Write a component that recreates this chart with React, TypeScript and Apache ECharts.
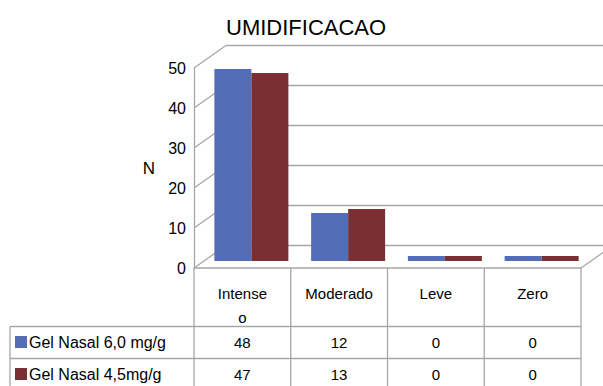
import React, { useEffect, useRef } from "react";
import * as echarts from "echarts";

const categories = ["Intense\no", "Moderado", "Leve", "Zero"];
const seriesNames = ["Gel Nasal 6,0 mg/g", "Gel Nasal 4,5mg/g"];
const gel60 = [48, 12, 0, 0];
const gel45 = [47, 13, 0, 0];
const valueMin = 0;
const valueMax = 50;
const valueStep = 10;

const FONT = "'Liberation Sans', Arial, Helvetica, sans-serif";
const BLUE = "#536db6";
const RED = "#7a3033";
const FRAME = "#a6a6a6";

// bar plane, and the offsets of the front and back planes of the 3D box
const PLANE = { left: 203, top: 61, width: 387, height: 200 };
const FRONT = { dx: -9, dy: 7 };
const BACK = { dx: 23, dy: -15.5 };
// data table rows
const TABLE = { left: 10, headerTop: 281, rowLines: [326.5, 358.5], rowCenters: [342, 374], bottom: 400 };

export default function App() {
  const ref = useRef<HTMLDivElement>(null);

  useEffect(() => {
    if (!ref.current) return;
    const chart = echarts.init(ref.current, null, { renderer: "svg" });

    const ticks: number[] = [];
    for (let v = valueMin; v <= valueMax; v += valueStep) ticks.push(v);

    // one legend entry per table row
    const legends = seriesNames.map((name, r) => ({
      orient: "vertical",
      left: 15,
      top: TABLE.rowCenters[r] - 8.5,
      padding: 0,
      icon: "rect",
      itemWidth: 12,
      itemHeight: 12,
      selectedMode: false,
      textStyle: { fontSize: 16, color: "#000", fontFamily: FONT, lineHeight: 17, padding: [0, 0, 0, -3] },
      data: [name],
    }));

    chart.setOption({
      animation: false,
      textStyle: { fontFamily: FONT },
      title: {
        text: "UMIDIFICACAO",
        left: 221,
        top: 11,
        textStyle: { fontSize: 22, fontWeight: "normal", color: "#000", fontFamily: FONT },
      },
      legend: legends,
      grid: [
        { left: PLANE.left, top: PLANE.top, width: PLANE.width, height: PLANE.height },
        {
          left: PLANE.left + FRONT.dx,
          top: PLANE.top + FRONT.dy,
          width: PLANE.width,
          height: PLANE.height,
        },
      ],
      xAxis: [
        { type: "category", gridIndex: 0, data: categories, show: false },
        { type: "category", gridIndex: 1, data: categories, show: false },
      ],
      yAxis: [
        { type: "value", gridIndex: 0, min: valueMin, max: valueMax, interval: valueStep, show: false },
        {
          type: "value",
          gridIndex: 1,
          min: valueMin,
          max: valueMax,
          interval: valueStep,
          axisLine: { show: true, lineStyle: { color: FRAME, width: 1.3 } },
          axisTick: { show: false },
          splitLine: { show: false },
          axisLabel: { fontSize: 16, color: "#000", margin: 8, fontFamily: FONT, padding: [6, 0, 0, 0] },
          name: "N",
          nameLocation: "middle",
          nameRotate: 0,
          nameGap: 39,
          nameTextStyle: { fontSize: 17, color: "#000", fontFamily: FONT, padding: [14, 0, 0, 0] },
        },
      ],
      series: [
        {
          type: "bar",
          name: seriesNames[0],
          data: gel60,
          xAxisIndex: 0,
          yAxisIndex: 0,
          barWidth: 37,
          barGap: "0%",
          barMinHeight: 5,
          itemStyle: { color: BLUE },
        },
        {
          type: "bar",
          name: seriesNames[1],
          data: gel45,
          xAxisIndex: 0,
          yAxisIndex: 0,
          barWidth: 37,
          barGap: "0%",
          barMinHeight: 5,
          itemStyle: { color: RED },
        },
      ],
    });

    // geometry of the box, taken from the axes
    const py = (v: number) => chart.convertToPixel({ yAxisIndex: 0 }, v) as number;
    const fy = (v: number) => chart.convertToPixel({ yAxisIndex: 1 }, v) as number;
    const fx = (i: number) => chart.convertToPixel({ xAxisIndex: 1 }, categories[i]) as number;
    const slot = fx(1) - fx(0);
    const frontLeft = fx(0) - slot / 2;
    const frontRight = frontLeft + slot * categories.length;
    const backLeft = frontLeft - FRONT.dx + BACK.dx;
    const backRight = frontRight - FRONT.dx + BACK.dx;
    const by = (v: number) => py(v) + BACK.dy;

    const line = (x1: number, y1: number, x2: number, y2: number) => ({
      type: "line",
      silent: true,
      shape: { x1, y1, x2, y2 },
      style: { stroke: FRAME, lineWidth: 1.3 },
    });
    const text = (x: number, y: number, t: string, extra: any = {}) => ({
      type: "text",
      silent: true,
      x,
      y,
      style: {
        text: t,
        fill: "#000",
        font: `15px ${FONT}`,
        textAlign: "center",
        textVerticalAlign: "middle",
        ...extra,
      },
    });

    const elements: any[] = [];
    // back wall gridlines and side wall lines
    ticks.forEach((v) => {
      elements.push(line(backLeft, by(v), backRight, by(v)));
      elements.push(line(frontLeft, fy(v), backLeft, by(v)));
    });
    // floor front and right edges
    elements.push(line(frontLeft, fy(0), frontRight, fy(0)));
    elements.push(line(frontRight, fy(0), backRight, by(0)));

    // data table
    for (let k = 0; k <= categories.length; k++) {
      const x = frontLeft + k * slot;
      elements.push(line(x, fy(0), x, TABLE.bottom));
    }
    TABLE.rowLines.forEach((y) => elements.push(line(TABLE.left, y, frontRight, y)));
    elements.push(line(TABLE.left, TABLE.rowLines[0], TABLE.left, TABLE.bottom));

    categories.forEach((c, i) => {
      elements.push(
        text(fx(i), TABLE.headerTop, c, { textVerticalAlign: "top", lineHeight: 24 })
      );
    });
    [gel60, gel45].forEach((vals, r) => {
      vals.forEach((v, i) => {
        elements.push(text(fx(i), TABLE.rowCenters[r], String(v)));
      });
    });

    chart.setOption({ graphic: { elements } });

    return () => chart.dispose();
  }, []);

  return (
    <div
      ref={ref}
      style={{ position: "absolute", left: 0, top: 0, width: 603, height: 386, background: "#fff" }}
    />
  );
}
